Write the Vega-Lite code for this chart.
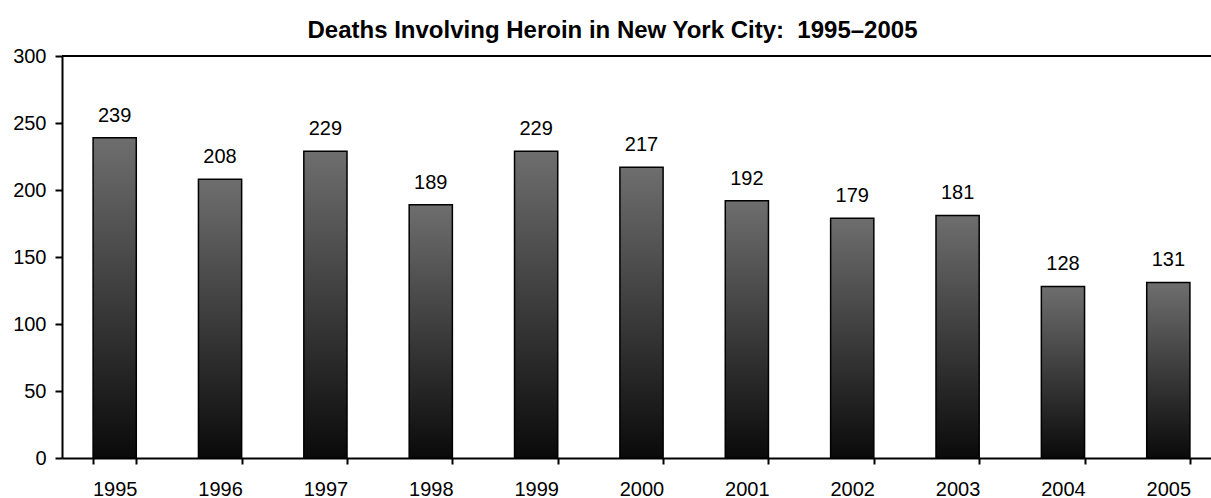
{
  "$schema": "https://vega.github.io/schema/vega-lite/v6.json",
  "width": 1149,
  "height": 402,
  "autosize": {"type": "none"},
  "padding": {"left": 62, "top": 56, "right": 0, "bottom": 40},
  "background": "white",
  "view": {"stroke": null},
  "config": {"font": "Liberation Sans"},
  "title": {
    "text": "Deaths Involving Heroin in New York City:\u00a0 1995–2005",
    "font": "Liberation Sans",
    "fontSize": 24,
    "fontWeight": "bold",
    "color": "black",
    "anchor": "middle",
    "baseline": "alphabetic",
    "dx": -24,
    "dy": 27,
    "offset": 11
  },
  "data": {
    "values": [
      {"year": "1995", "deaths": 239},
      {"year": "1996", "deaths": 208},
      {"year": "1997", "deaths": 229},
      {"year": "1998", "deaths": 189},
      {"year": "1999", "deaths": 229},
      {"year": "2000", "deaths": 217},
      {"year": "2001", "deaths": 192},
      {"year": "2002", "deaths": 179},
      {"year": "2003", "deaths": 181},
      {"year": "2004", "deaths": 128},
      {"year": "2005", "deaths": 131}
    ]
  },
  "encoding": {
    "x": {
      "field": "year",
      "type": "ordinal",
      "scale": {"range": [0, 1159], "paddingInner": 0.59, "paddingOuter": 0.295},
      "axis": {
        "title": null,
        "labelAngle": 0,
        "labelFontSize": 20,
        "labelColor": "black",
        "labelPadding": 15,
        "tickBand": "extent",
        "tickSize": 6,
        "tickWidth": 2,
        "tickColor": "black",
        "domainColor": "black",
        "domainWidth": 2
      }
    },
    "y": {
      "field": "deaths",
      "type": "quantitative",
      "scale": {"domain": [0, 300], "nice": false},
      "axis": {
        "title": null,
        "values": [0, 50, 100, 150, 200, 250, 300],
        "grid": false,
        "labelFontSize": 20,
        "labelColor": "black",
        "labelPadding": 9,
        "tickSize": 7,
        "tickWidth": 2,
        "tickColor": "black",
        "domainColor": "black",
        "domainWidth": 2
      }
    }
  },
  "layer": [
    {
      "mark": {"type": "rule", "color": "black", "strokeWidth": 2},
      "encoding": {"y": {"datum": 300}, "x": null}
    },
    {
      "mark": {
        "type": "bar",
        "stroke": "black",
        "strokeWidth": 1.5,
        "fill": {
          "gradient": "linear",
          "x1": 0, "y1": 0, "x2": 0, "y2": 1,
          "stops": [
            {"offset": 0, "color": "#6e6e6e"},
            {"offset": 1, "color": "#0a0a0a"}
          ]
        }
      }
    },
    {
      "mark": {"type": "text", "fontSize": 20, "color": "black", "baseline": "alphabetic", "dy": -16},
      "encoding": {"text": {"field": "deaths", "type": "quantitative"}}
    }
  ]
}
